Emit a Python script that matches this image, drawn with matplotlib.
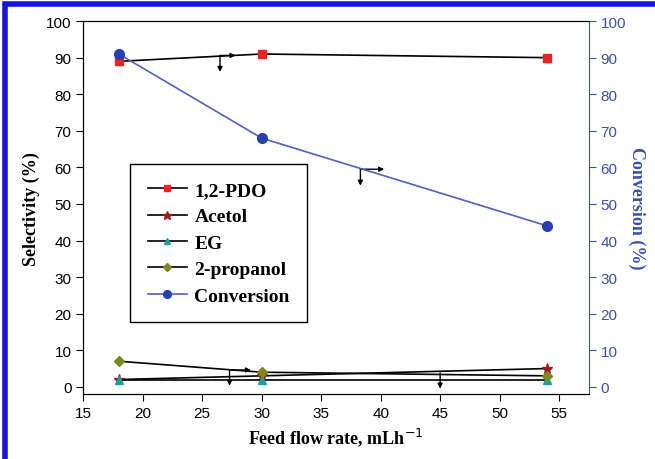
import numpy as np
import matplotlib.pyplot as plt
from matplotlib.patches import Rectangle

flow = [18, 30, 54]
pdo = [89, 91, 90]
acetol = [2, 3, 5]
eg = [2, 2, 2]
propanol = [7, 4, 3]
conversion = [91, 68, 44]

serif = 'Liberation Serif'
plt.rcParams['font.family'] = 'Liberation Sans'

fig = plt.figure(figsize=(6.55, 4.6), dpi=100)
ax = fig.add_axes([0.127, 0.141, 0.772, 0.811])
ax2 = ax.twinx()

blue = '#3a4fb0'
l1, = ax.plot(flow, pdo, color='black', lw=1.2, marker='s', ms=6, mfc='#f02020', mec='#f02020', label='1,2-PDO')
l2, = ax.plot(flow, acetol, color='black', lw=1.2, marker='*', ms=8, mfc='#a01818', mec='#a01818', label='Acetol')
l3, = ax.plot(flow, eg, color='black', lw=1.2, marker='^', ms=6, mfc='#1aa0a0', mec='#1aa0a0', label='EG')
l4, = ax.plot(flow, propanol, color='black', lw=1.2, marker='D', ms=5.5, mfc='#7a8a20', mec='#7a8a20', label='2-propanol')
l5, = ax2.plot(flow, conversion, color='#5060c0', lw=1.2, marker='o', ms=7, mfc='#2a3fb0', mec='#2a3fb0', label='Conversion')

for a in (ax, ax2):
    a.set_xlim(15, 57.5)
    a.set_ylim(-2, 100)
    a.set_yticks(range(0, 101, 10))
ax.set_xticks(range(15, 56, 5))
ax.tick_params(direction='out', length=5, labelsize=11)
ax2.tick_params(direction='out', length=5, labelsize=11, colors=blue)
ax2.spines['right'].set_color(blue)
ax.spines['right'].set_visible(False)

ax.set_xlabel('Feed flow rate, mLh$^{-1}$', fontfamily=serif, fontweight='bold', fontsize=13)
ax.set_ylabel('Selectivity (%)', fontfamily=serif, fontweight='bold', fontsize=13)
ax2.set_ylabel('Conversion (%)', fontfamily=serif, fontweight='bold', fontsize=13, color=blue, rotation=270, labelpad=14)

# bent arrows pointing to each axis
akw = dict(arrowstyle='-|>', color='black', lw=1, mutation_scale=7, shrinkA=0, shrinkB=0)
def bent(x, y, dx, dy):
    ax.annotate('', xy=(x + dx, y), xytext=(x, y), arrowprops=akw)
    ax.annotate('', xy=(x, y - dy), xytext=(x, y), arrowprops=akw)

bent(26.5, 90.6, 1.3, 4.5)
bent(38.3, 59.5, 2.0, 4.5)
bent(27.3, 4.6, 1.8, 4.3)
ax.annotate('', xy=(45, -0.5), xytext=(45, 3.8), arrowprops=akw)

leg = ax.legend(handles=[l1, l2, l3, l4, l5], loc='upper left', bbox_to_anchor=(0.093, 0.617),
                borderaxespad=0, fancybox=False, edgecolor='black', framealpha=1,
                handlelength=2.0, handletextpad=0.4, markerscale=0.8,
                borderpad=0.9, labelspacing=0.45,
                prop={'family': serif, 'weight': 'bold', 'size': 14})
leg.get_frame().set_linewidth(1.0)

fig.patches.append(Rectangle((0.008, -0.05), 1.2, 1.04, transform=fig.transFigure,
                             fill=False, edgecolor='#1515e0', lw=4, zorder=0))

fig.savefig('out.png', dpi=100)
